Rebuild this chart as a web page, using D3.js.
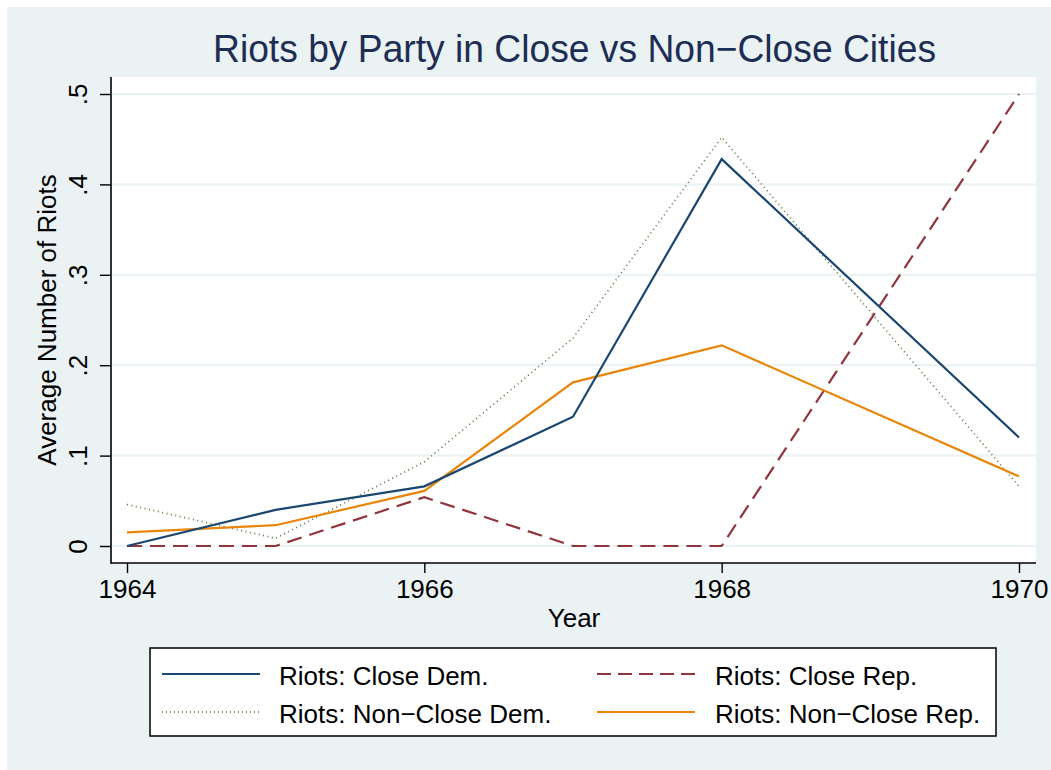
<!DOCTYPE html>
<html>
<head>
<meta charset="utf-8">
<script src="https://cdn.jsdelivr.net/npm/d3@7"></script>
<style>
  html, body { margin: 0; padding: 0; background: #ffffff; }
  svg { display: block; }
  text { font-family: "Liberation Sans", Arial, Helvetica, sans-serif; }
</style>
</head>
<body>
<div id="chart"></div>
<script>
const years = [1964, 1965, 1966, 1967, 1968, 1970];
const closeDem = [0, 0.040, 0.066, 0.143, 0.428, 0.120];
const closeRep = [0, 0, 0.054, 0, 0, 0.5];
const nonCloseDem = [0.046, 0.0085, 0.093, 0.230, 0.452, 0.066];
const nonCloseRep = [0.015, 0.023, 0.061, 0.181, 0.222, 0.077];
const xTicks = [1964, 1966, 1968, 1970];
const yTicks = [0, 0.1, 0.2, 0.3, 0.4, 0.5];
const yTickLabels = ["0", ".1", ".2", ".3", ".4", ".5"];
const seriesNames = ["Riots: Close Dem.", "Riots: Close Rep.", "Riots: Non\u2212Close Dem.", "Riots: Non\u2212Close Rep."];

const W = 1051, H = 770;
const FS = 26;
const svg = d3.select("#chart").append("svg").attr("width", W).attr("height", H);

svg.append("rect").attr("x", 7).attr("y", 7).attr("width", W - 7).attr("height", H - 7).attr("fill", "#eaf2f3");

const plot = { left: 111, right: 1036, top: 77, bottom: 563 };
svg.append("rect").attr("x", plot.left).attr("y", plot.top)
  .attr("width", plot.right - plot.left).attr("height", plot.bottom - plot.top).attr("fill", "#ffffff");

const x = d3.scaleLinear().domain([1964, 1970]).range([127, 1019]);
const y = d3.scaleLinear().domain([0, 0.5]).range([546, 94]);

// gridlines
svg.append("g").selectAll("line").data(yTicks).join("line")
  .attr("x1", plot.left).attr("x2", plot.right)
  .attr("y1", d => y(d)).attr("y2", d => y(d))
  .attr("stroke", "#eaf2f3").attr("stroke-width", 2);

// title
svg.append("text").attr("x", 574.5).attr("y", 62).attr("text-anchor", "middle")
  .attr("font-size", 38).attr("fill", "#1e2d53")
  .attr("textLength", 723).attr("lengthAdjust", "spacingAndGlyphs")
  .text("Riots by Party in Close vs Non\u2212Close Cities");

// series
const series = [
  { name: seriesNames[0], values: closeDem, color: "#1a476f", dash: null },
  { name: seriesNames[1], values: closeRep, color: "#90353b", dash: "15,8" },
  { name: seriesNames[2], values: nonCloseDem, color: "#55752f", dash: "1,3.5" },
  { name: seriesNames[3], values: nonCloseRep, color: "#e8850a", dash: null }
];
const line = d3.line().x(d => x(d[0])).y(d => y(d[1]));
const drawOrder = [2, 1, 3, 0];
const gLines = svg.append("g");
drawOrder.forEach(i => {
  const s = series[i];
  gLines.append("path")
    .datum(years.map((yr, k) => [yr, s.values[k]]))
    .attr("d", line).attr("fill", "none")
    .attr("stroke", s.color).attr("stroke-width", i === 2 ? 1.6 : 2.2)
    .attr("stroke-dasharray", s.dash)
    .attr("stroke-linejoin", "miter");
});

// axes
const xAxis = d3.axisBottom(x).tickValues(xTicks).tickFormat(d3.format("d")).tickSize(10).tickPadding(7);
const gx = svg.append("g").attr("transform", `translate(0,${plot.bottom})`).call(xAxis);
gx.select(".domain").remove();
gx.append("line").attr("x1", plot.left).attr("x2", plot.right).attr("y1", 0).attr("y2", 0)
  .attr("stroke", "#000").attr("stroke-width", 1.6);
gx.selectAll(".tick line").attr("stroke", "#000").attr("stroke-width", 1.4);
gx.selectAll(".tick text").attr("font-size", FS).attr("fill", "#000")
  .attr("font-family", "Liberation Sans, Arial, sans-serif");

const yAxis = d3.axisLeft(y).tickValues(yTicks).tickFormat((d, i) => yTickLabels[i]).tickSize(11).tickPadding(0);
const gy = svg.append("g").attr("transform", `translate(${plot.left},0)`).call(yAxis);
gy.select(".domain").remove();
gy.append("line").attr("x1", 0).attr("x2", 0).attr("y1", plot.top).attr("y2", plot.bottom + 0.8)
  .attr("stroke", "#000").attr("stroke-width", 1.6);
gy.selectAll(".tick line").attr("stroke", "#000").attr("stroke-width", 1.4);
gy.selectAll(".tick text")
  .attr("font-size", FS).attr("fill", "#000")
  .attr("font-family", "Liberation Sans, Arial, sans-serif")
  .attr("x", null).attr("dy", null)
  .attr("text-anchor", "middle")
  .attr("transform", "translate(-24,0) rotate(-90)")
  .attr("y", 0);

// axis titles
svg.append("text").attr("x", 574).attr("y", 627).attr("text-anchor", "middle")
  .attr("font-size", FS).attr("fill", "#000").text("Year");
svg.append("text").attr("transform", `translate(56,${(plot.top + plot.bottom) / 2}) rotate(-90)`)
  .attr("text-anchor", "middle").attr("font-size", FS).attr("fill", "#000")
  .text("Average Number of Riots");

// legend
const lg = svg.append("g");
lg.append("rect").attr("x", 150).attr("y", 648).attr("width", 846).attr("height", 88)
  .attr("fill", "#ffffff").attr("stroke", "#000").attr("stroke-width", 1.5);
const legPos = [
  { sx: 162, tx: 279, ly: 674, ty: 685 },
  { sx: 597, tx: 715, ly: 674, ty: 685 },
  { sx: 162, tx: 279, ly: 712, ty: 723 },
  { sx: 597, tx: 715, ly: 712, ty: 723 }
];
series.forEach((s, i) => {
  const p = legPos[i];
  lg.append("line").attr("x1", p.sx).attr("x2", p.sx + 98).attr("y1", p.ly).attr("y2", p.ly)
    .attr("stroke", s.color).attr("stroke-width", i === 2 ? 1.4 : 2.2)
    .attr("stroke-dasharray", i === 1 ? "14,7" : (i === 2 ? "1,3" : null));
  lg.append("text").attr("x", p.tx).attr("y", p.ty).attr("font-size", FS).attr("fill", "#000")
    .text(s.name);
});
</script>
</body>
</html>
